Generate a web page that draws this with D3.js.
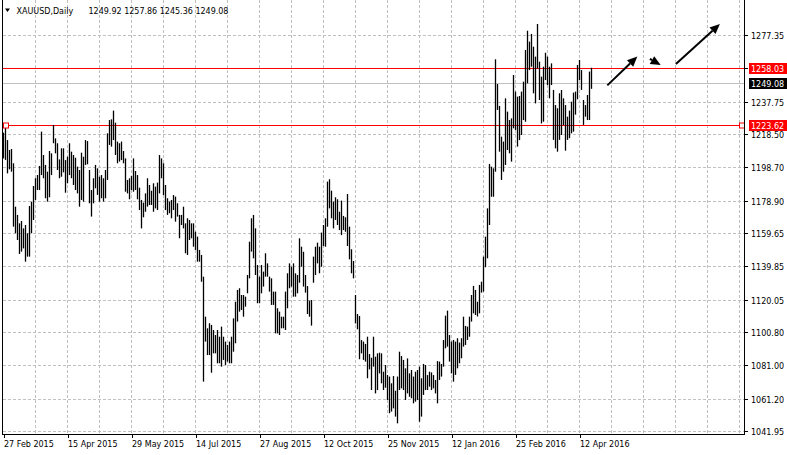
<!DOCTYPE html>
<html><head><meta charset="utf-8">
<script src="https://cdn.jsdelivr.net/npm/d3@7"></script>
<style>
html,body{margin:0;padding:0;background:#fff;}
svg{display:block;}
text{font-family:"DejaVu Sans",Verdana,sans-serif;font-size:8px;fill:#000;}
</style>
</head><body>
<svg id="chart" width="787" height="455"></svg>
<script>
// ---- data (daily bars, index 0 = 27 Feb 2015) ----
const highs = [
1219.3,1223.9,1214.9,1209.0,1209.6,1201.1,1175.3,1170.4,1165.4,1166.8,
1162.4,1164.4,1159.5,1175.7,1178.3,1187.6,1192.2,1194.1,1199.5,1219.9,
1206.0,1200.1,1196.1,1208.4,1207.0,1223.9,1215.9,1213.0,1203.4,1210.0,
1210.0,1203.0,1205.0,1213.0,1208.0,1206.0,1204.4,1199.1,1197.1,1207.4,
1205.0,1214.9,1214.3,1197.1,1185.2,1192.2,1200.1,1198.1,1193.1,1194.1,
1192.2,1197.1,1218.9,1226.8,1227.2,1232.4,1225.2,1214.0,1213.0,1214.0,
1208.4,1204.0,1191.2,1192.2,1193.5,1204.0,1196.5,1194.1,1186.6,1179.3,
1177.7,1183.2,1192.2,1188.2,1184.8,1189.2,1187.2,1189.6,1206.0,1204.0,
1201.1,1188.2,1180.3,1178.3,1179.3,1182.2,1181.3,1177.3,1170.4,1170.4,
1175.3,1165.4,1168.4,1167.4,1165.4,1165.4,1160.4,1157.5,1149.6,1146.6,
1133.7,1109.9,1103.0,1106.0,1105.0,1102.0,1099.0,1102.0,1098.0,1104.0,
1098.0,1095.1,1093.1,1095.1,1098.0,1108.9,1118.8,1125.8,1126.8,1122.8,
1122.8,1121.8,1134.7,1154.5,1168.4,1170.4,1162.4,1140.6,1133.7,1140.6,
1136.7,1147.6,1141.6,1133.7,1132.7,1124.8,1124.8,1114.9,1112.9,1109.9,
1109.9,1124.8,1135.7,1141.6,1139.6,1141.6,1135.7,1134.7,1156.5,1151.5,
1148.5,1134.7,1128.1,1119.4,1119.8,1145.6,1151.5,1153.9,1151.5,1159.9,
1164.4,1168.4,1190.2,1191.6,1184.8,1178.3,1180.9,1179.7,1172.3,1178.9,
1169.8,1169.0,1182.8,1163.4,1150.0,1143.0,1122.8,1111.5,1110.3,1096.0,
1095.1,1093.7,1098.0,1087.7,1085.5,1098.0,1086.1,1088.1,1088.5,1088.1,
1077.2,1081.2,1075.2,1074.3,1070.3,1074.6,1065.9,1074.3,1089.1,1086.5,
1084.2,1079.2,1085.1,1076.2,1078.2,1074.3,1077.2,1078.2,1080.2,1073.3,
1081.8,1081.2,1075.2,1077.2,1076.8,1075.2,1072.3,1083.5,1083.2,1081.8,
1096.0,1110.5,1113.5,1099.0,1095.1,1096.1,1095.1,1097.1,1094.5,1097.1,
1109.9,1104.4,1104.0,1109.9,1122.8,1128.2,1125.8,1118.8,1128.8,1130.7,
1145.6,1157.5,1174.3,1200.7,1199.1,1198.1,1262.9,1248.2,1235.2,1216.9,
1214.0,1239.7,1231.8,1226.8,1227.8,1253.6,1243.7,1240.7,1241.1,1243.7,
1249.6,1268.4,1279.9,1273.4,1278.0,1270.4,1264.5,1283.9,1261.5,1252.6,
1258.5,1266.8,1264.5,1258.5,1260.5,1244.7,1235.7,1233.8,1242.7,1244.7,
1239.7,1235.7,1228.8,1232.4,1237.7,1243.1,1243.7,1259.5,1262.5,1256.5,
1238.7,1235.7,1241.7,1255.6,1257.86
];
const lows = [
1204.0,1203.1,1195.1,1197.5,1196.1,1163.4,1159.5,1155.5,1147.2,1148.6,
1150.5,1142.6,1145.6,1145.6,1159.5,1167.4,1179.3,1185.2,1185.2,1194.1,
1192.2,1180.3,1178.3,1180.9,1194.1,1213.0,1207.0,1197.1,1192.2,1193.1,
1195.7,1183.6,1189.2,1194.1,1192.2,1188.2,1185.2,1183.2,1175.3,1179.3,
1178.3,1200.1,1200.5,1177.3,1169.4,1177.3,1186.2,1182.3,1178.3,1180.3,
1178.3,1180.3,1191.2,1212.0,1211.0,1214.9,1206.0,1201.1,1202.1,1203.0,
1201.1,1184.2,1183.2,1179.7,1185.2,1184.2,1185.2,1179.7,1173.3,1162.4,
1169.0,1172.3,1175.3,1176.3,1176.3,1172.3,1174.3,1173.3,1183.2,1192.2,
1182.2,1173.3,1170.4,1171.4,1168.4,1173.3,1166.4,1169.4,1156.5,1164.4,
1162.4,1147.6,1146.6,1155.5,1156.5,1151.5,1149.6,1142.6,1142.6,1130.7,
1071.3,1095.1,1087.1,1087.1,1076.6,1088.1,1088.1,1082.2,1082.2,1080.2,
1084.2,1081.2,1083.2,1082.2,1082.2,1089.1,1094.1,1107.0,1112.9,1113.9,
1109.9,1115.9,1123.8,1132.7,1148.6,1144.6,1134.7,1117.9,1117.9,1123.8,
1127.8,1133.7,1133.7,1124.8,1116.9,1116.9,1100.0,1100.0,1099.0,1103.0,
1103.0,1102.0,1114.9,1126.8,1127.8,1121.8,1121.8,1123.8,1130.1,1139.6,
1127.8,1124.2,1111.5,1109.9,1104.6,1130.1,1134.7,1141.6,1135.7,1139.6,
1151.9,1151.5,1163.4,1174.3,1168.4,1162.4,1167.4,1164.4,1161.4,1158.4,
1161.4,1160.4,1151.9,1144.0,1135.7,1132.7,1105.9,1102.4,1084.6,1088.1,
1084.2,1083.2,1073.3,1078.6,1066.3,1080.2,1064.3,1066.3,1076.2,1070.3,
1066.3,1067.7,1060.4,1052.5,1053.5,1055.4,1050.5,1046.5,1066.3,1067.3,
1066.3,1060.4,1064.3,1062.3,1061.4,1058.4,1059.4,1060.4,1047.5,1050.5,
1063.4,1066.3,1066.3,1068.3,1066.3,1067.3,1064.3,1058.4,1072.3,1074.3,
1080.2,1091.1,1092.1,1083.2,1076.2,1071.3,1075.3,1079.2,1082.2,1085.2,
1092.1,1093.1,1096.1,1098.0,1107.0,1111.9,1110.9,1110.0,1111.9,1124.2,
1124.8,1139.3,1144.6,1164.4,1181.2,1181.2,1196.1,1232.8,1208.0,1191.2,
1196.1,1200.1,1209.0,1207.0,1202.1,1221.9,1220.9,1211.0,1214.9,1217.9,
1226.8,1225.8,1248.6,1256.5,1258.5,1242.7,1236.7,1257.5,1238.7,1224.8,
1225.8,1250.6,1247.6,1239.7,1247.6,1215.0,1210.0,1208.0,1215.0,1217.9,
1223.8,1208.6,1215.0,1216.0,1218.9,1219.9,1230.0,1239.1,1250.6,1244.7,
1223.9,1228.8,1226.8,1226.8,1245.36
];
const priceTicks = [1041.95,1061.20,1081.00,1100.80,1120.05,1139.85,1159.65,1178.90,1198.70,1218.50,1237.75,1257.55,1277.35];
const dateLabels = ["27 Feb 2015","15 Apr 2015","29 May 2015","14 Jul 2015","27 Aug 2015","12 Oct 2015","25 Nov 2015","12 Jan 2016","25 Feb 2016","12 Apr 2016"];
const dateLabelBars = [0,32,64,96,128,160,192,224,256,288];
const headerSymbol = "XAUUSD,Daily";
const headerOHLC = [1249.92,1257.86,1245.36,1249.08];
const levelLines = [1258.03,1223.62];
const bidPrice = 1249.08;
// arrows: [barFrom, priceFrom, barTo, priceTo]
const arrowsBars = [[301.9,1247.4,316.9,1264.5],[323.2,1263.1,328.6,1259.5],[336.2,1260.1,358.2,1283.9]];

// ---- layout ----
const svg = d3.select("#chart");
const plotLeft = 2, plotRight = 744, plotBottom = 434, plotTop = 0;
const x = d3.scaleLinear().domain([0, 370]).range([3.5, 743.5]);
const y = d3.scaleLinear().domain([1041.95, 1277.35]).range([431, 35]);
const gridCol = "#c0c0c0";

const plot = svg.append("g");
plot.selectAll("line.hg").data(priceTicks).enter().append("line")
  .attr("x1", plotLeft + 1).attr("x2", plotRight)
  .attr("y1", d => Math.round(y(d)) + 0.5).attr("y2", d => Math.round(y(d)) + 0.5)
  .attr("stroke", gridCol).attr("stroke-dasharray", "3,2");
const vgrid = d3.range(16, 370, 16);
plot.selectAll("line.vg").data(vgrid).enter().append("line")
  .attr("x1", d => x(d)).attr("x2", d => x(d))
  .attr("y1", 0).attr("y2", plotBottom)
  .attr("stroke", gridCol).attr("stroke-dasharray", "3,2");

plot.append("line").attr("x1", plotLeft + 1).attr("x2", plotRight)
  .attr("y1", Math.round(y(bidPrice)) + 0.5).attr("y2", Math.round(y(bidPrice)) + 0.5)
  .attr("stroke", "#c0c0c0");

plot.selectAll("line.lv").data(levelLines).enter().append("line")
  .attr("x1", plotLeft + 1).attr("x2", plotRight)
  .attr("y1", d => Math.round(y(d)) + 0.5).attr("y2", d => Math.round(y(d)) + 0.5)
  .attr("stroke", "#ff0000");

plot.selectAll("line.bar").data(highs).enter().append("line")
  .attr("x1", (d, i) => x(i)).attr("x2", (d, i) => x(i))
  .attr("y1", d => y(d)).attr("y2", (d, i) => y(lows[i]))
  .attr("stroke", "#000").attr("stroke-width", 1.3);

[x(1), x(369)].forEach(px => {
  plot.append("rect").attr("x", Math.round(px) - 2.5).attr("y", Math.round(y(levelLines[1])) - 2)
    .attr("width", 5).attr("height", 5).attr("fill", "#fff").attr("stroke", "#ff0000");
});

arrowsBars.forEach(a => {
  const x1 = x(a[0]), y1 = y(a[1]), x2 = x(a[2]), y2 = y(a[3]);
  const ang = Math.atan2(y2 - y1, x2 - x1);
  const L = 10, Wd = 4.5;
  const bx = x2 - L * Math.cos(ang), by = y2 - L * Math.sin(ang);
  plot.append("line").attr("x1", x1).attr("y1", y1).attr("x2", bx).attr("y2", by)
    .attr("stroke", "#000").attr("stroke-width", 2);
  const px = -Math.sin(ang), py = Math.cos(ang);
  plot.append("path").attr("d", `M${x2},${y2}L${bx + px * Wd},${by + py * Wd}L${bx - px * Wd},${by - py * Wd}Z`)
    .attr("fill", "#000");
});

svg.append("line").attr("x1", plotLeft + 0.5).attr("x2", plotLeft + 0.5).attr("y1", plotTop).attr("y2", plotBottom + 0.5).attr("stroke", "#000");
svg.append("line").attr("x1", plotRight + 0.5).attr("x2", plotRight + 0.5).attr("y1", plotTop).attr("y2", plotBottom + 0.5).attr("stroke", "#000");
svg.append("line").attr("x1", plotLeft).attr("x2", plotRight + 1).attr("y1", plotBottom + 0.5).attr("y2", plotBottom + 0.5).attr("stroke", "#000");

const axisG = svg.append("g");
priceTicks.forEach(v => {
  const py = Math.round(y(v)) + 0.5;
  axisG.append("line").attr("x1", plotRight + 1).attr("x2", plotRight + 4).attr("y1", py).attr("y2", py).attr("stroke", "#000");
  axisG.append("text").attr("x", 751).attr("y", py + 3).text(d3.format(".2f")(v));
});
function valueBox(v, bg) {
  const py = Math.round(y(v));
  axisG.append("rect").attr("x", 749).attr("y", py - 5).attr("width", 38).attr("height", 11).attr("fill", bg);
  axisG.append("text").attr("x", 751).attr("y", py + 3.5).style("fill", "#fff").text(d3.format(".2f")(v));
}
valueBox(levelLines[0], "#ff0000");
valueBox(bidPrice, "#000");
valueBox(levelLines[1], "#ff0000");

dateLabelBars.forEach((b, k) => {
  const px = Math.round(x(b)) + 0.5;
  svg.append("line").attr("x1", px).attr("x2", px).attr("y1", plotBottom).attr("y2", plotBottom + 4).attr("stroke", "#000");
  svg.append("text").attr("x", px - 0.5).attr("y", 446.5).text(dateLabels[k]);
});

svg.append("path").attr("d", "M5,8.5L10,8.5L7.5,12Z").attr("fill", "#000");
svg.append("text").attr("x", 16.5).attr("y", 14).text(headerSymbol);
svg.append("text").attr("x", 88.5).attr("y", 14).text(headerOHLC.map(d3.format(".2f")).join(" "));
</script>
</body></html>
